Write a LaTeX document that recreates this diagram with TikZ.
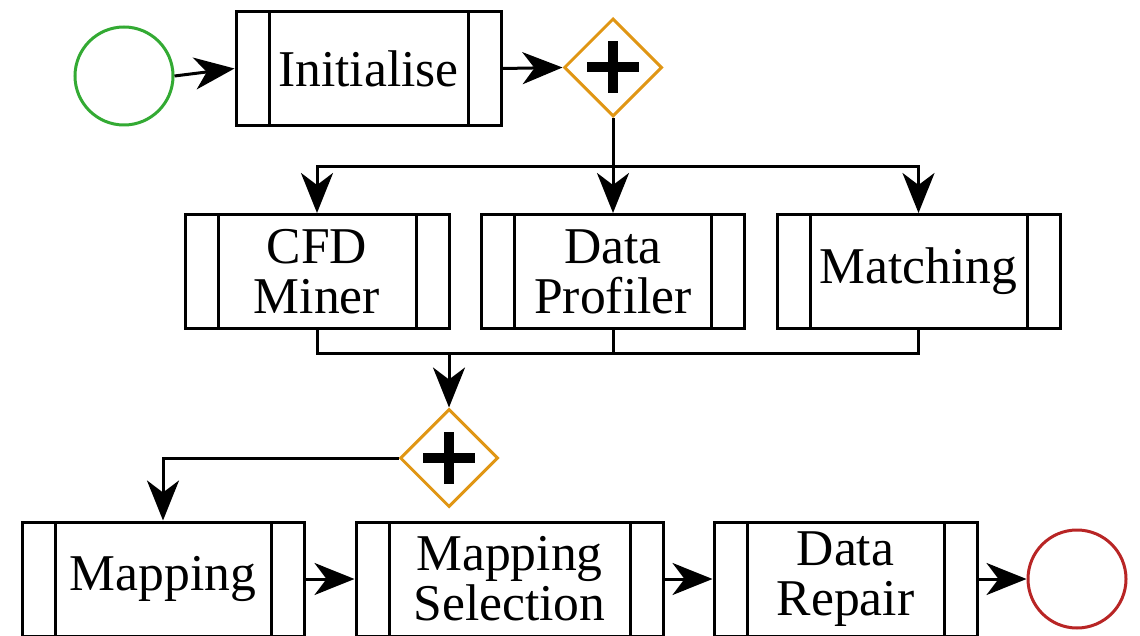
\documentclass[tikz,border=0pt]{standalone}
\usepackage{fontspec}
\setmainfont{Liberation Serif}
\usetikzlibrary{arrows.meta,shapes.geometric}
\definecolor{startgreen}{RGB}{51,170,51}
\definecolor{endred}{RGB}{184,37,37}
\definecolor{gworange}{RGB}{224,150,20}
\begin{document}
\begin{tikzpicture}[x=0.5pt,y=-0.5pt,
  subproc/.style={draw, line width=1.5pt, rectangle, minimum height=57pt, inner sep=0pt,
    align=center, font=\fontsize{25.8}{25}\selectfont,
    path picture={\draw[line width=1.5pt]
      ([xshift=16.5pt]path picture bounding box.north west) -- ([xshift=16.5pt]path picture bounding box.south west)
      ([xshift=-16.5pt]path picture bounding box.north east) -- ([xshift=-16.5pt]path picture bounding box.south east);}},
  gateway/.style={diamond, draw=gworange, line width=1.5pt, minimum width=49pt, minimum height=49pt,
    inner sep=0pt, aspect=1,
    path picture={\fill (path picture bounding box.center) +(-13pt,-2.5pt) rectangle +(13pt,2.5pt);
                  \fill (path picture bounding box.center) +(-2.5pt,-13pt) rectangle +(2.5pt,13pt);}},
  event/.style={circle, line width=1.5pt, minimum size=49pt, inner sep=0pt},
  flow/.style={line width=1.5pt, -{Stealth[length=20pt,width=16pt,inset=6pt]}},
  plain/.style={line width=1.5pt}]
\useasboundingbox (0,0) rectangle (1140,636);

\node[event, draw=startgreen] (start) at (124,76) {};
\node[subproc, minimum width=132.5pt] (init) at (368.5,68.5) {Initialise};
\node[gateway] (gw1) at (613,67.5) {};

\node[subproc, minimum width=132pt] (cfd) at (317,271.5) {CFD\\Miner};
\node[subproc, minimum width=131.5pt] (prof) at (613,271.5) {Data\\Profiler};
\node[subproc, minimum width=141.5pt] (match) at (918.5,271.5) {Matching};

\node[gateway] (gw2) at (449,458) {};

\node[subproc, minimum width=141pt] (map) at (163,579) {Mapping};
\node[subproc, minimum width=153.5pt] (sel) at (509.5,579) {Mapping\\Selection};
\node[subproc, minimum width=131.5pt] (rep) at (845.5,579) {Data\\Repair};
\node[event, draw=endred] (end) at (1077,579) {};

\coordinate (split) at (613,167);
\coordinate (merge) at (449,353);

\draw[flow] (start.east) -- (init.west);
\draw[flow] (init.east) -- (gw1.west);
\draw[plain] (gw1.south) -- (split);
\draw[flow] (split) -| (cfd.north);
\draw[flow] (split) -- (prof.north);
\draw[flow] (split) -| (match.north);

\draw[plain] (cfd.south) |- (merge);
\draw[plain] (prof.south) |- (merge);
\draw[plain] (match.south) |- (merge);
\draw[flow] (merge) -- (gw2.north);

\draw[flow] (gw2.west) -| (map.north);
\draw[flow] (map.east) -- (sel.west);
\draw[flow] (sel.east) -- (rep.west);
\draw[flow] (rep.east) -- (end.west);
\end{tikzpicture}
\end{document}
